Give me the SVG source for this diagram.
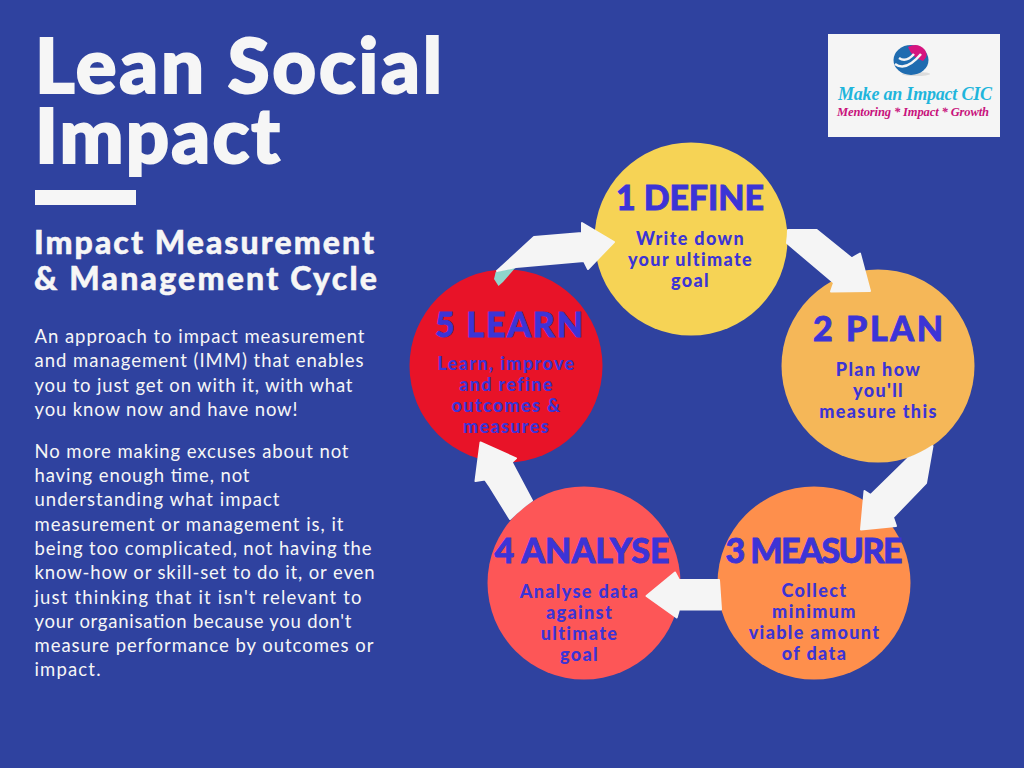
<svg xmlns="http://www.w3.org/2000/svg" width="1024" height="768" viewBox="0 0 1024 768">
<style>
.t{font-family:"Lato","Liberation Sans",sans-serif;fill:#f6f6f6}
.title{font-size:76px;font-weight:900;stroke:#f6f6f6;stroke-width:2}
.sub{font-size:32px;font-weight:900;stroke:#f6f6f6;stroke-width:.5}
.body{font-size:18.500px}
.h{font-family:"Lato","Liberation Sans",sans-serif;font-weight:900;font-size:34px;fill:#3c34d6;stroke:#3c34d6;stroke-width:.8;text-anchor:middle}
.d{font-family:"Lato","Liberation Sans",sans-serif;font-weight:900;font-size:18px;letter-spacing:1.350px;fill:#3c34d6;text-anchor:middle}
.a{fill:#f5f5f5;stroke:#f5f5f5;stroke-width:2;stroke-linejoin:round}
</style>
<rect width="1024" height="768" fill="#2f429f"/>
<g id="heading">
<text class="t title" x="35" y="93" textLength="407">Lean Social</text>
<text class="t title" x="35" y="163" textLength="245">Impact</text>
<rect x="35" y="190" width="101" height="15" fill="#f6f6f6"/>
<text class="t sub" x="34" y="254" textLength="340">Impact Measurement</text>
<text class="t sub" x="34" y="290" textLength="343">&amp; Management Cycle</text>
</g>
<g id="description">
<text class="t body" x="34.500" y="342.500" textLength="330">An approach to impact measurement</text>
<text class="t body" x="34.500" y="366.500" textLength="329">and management (IMM) that enables</text>
<text class="t body" x="34.500" y="391.500" textLength="318">you to just get on with it, with what</text>
<text class="t body" x="34.500" y="415.500" textLength="263">you know now and have now!</text>
<text class="t body" x="34.500" y="457.500" textLength="314">No more making excuses about not</text>
<text class="t body" x="34.500" y="481.500" textLength="215">having enough time, not</text>
<text class="t body" x="34.500" y="505.500" textLength="245">understanding what impact</text>
<text class="t body" x="34.500" y="530.500" textLength="309">measurement or management is, it</text>
<text class="t body" x="34.500" y="554.500" textLength="337">being too complicated, not having the</text>
<text class="t body" x="34.500" y="578.500" textLength="340">know-how or skill-set to do it, or even</text>
<text class="t body" x="34.500" y="603.500" textLength="327">just thinking that it isn't relevant to</text>
<text class="t body" x="34.500" y="627.500" textLength="317">your organisation because you don't</text>
<text class="t body" x="34.500" y="651.500" textLength="339">measure performance by outcomes or</text>
<text class="t body" x="34.500" y="675.500" textLength="66">impact.</text>
</g>
<g id="logo">
<rect x="828" y="34" width="172" height="103" fill="#f5f5f5"/>
<ellipse cx="916" cy="74" rx="14" ry="2" fill="#dcdcdc"/>
<ellipse cx="911" cy="60" rx="17.500" ry="15" fill="#1f6cb0"/>
<path d="M908 47Q918 42 925 50Q929 56 923 61Q912 58 908 47Z" fill="#d6147f"/>
<path d="M895 64Q906 72 921 54M899 58Q906 63 914 54" fill="none" stroke="#f5f5f5" stroke-width="2.500"/>
<text x="915" y="100" text-anchor="middle" font-family="Liberation Serif,serif" font-style="italic" font-weight="700" font-size="18" fill="#1fb5dc" textLength="154">Make an Impact CIC</text>
<text x="913" y="116" text-anchor="middle" font-family="Liberation Serif,serif" font-style="italic" font-weight="700" font-size="12.500" fill="#c8127c" textLength="152">Mentoring * Impact * Growth</text>
</g>
<g id="node1">
<circle cx="691" cy="239" r="96.500" fill="#f6d355"/>
<text class="h" x="690" y="210" textLength="148">1 DEFINE</text>
<text class="d" x="690.500" y="245">Write down</text>
<text class="d" x="690.500" y="266">your ultimate</text>
<text class="d" x="690.500" y="287">goal</text>
</g>
<g id="node2">
<circle cx="878" cy="366" r="96.500" fill="#f5b758"/>
<text class="h" x="878" y="341" textLength="130">2 PLAN</text>
<text class="d" x="878.500" y="376">Plan how</text>
<text class="d" x="878.500" y="397">you'll</text>
<text class="d" x="878.500" y="418">measure this</text>
</g>
<g id="node3">
<circle cx="814" cy="583" r="96.500" fill="#fe8f4c"/>
<text class="h" x="814" y="563" textLength="177">3 MEASURE</text>
<text class="d" x="814.500" y="597">Collect</text>
<text class="d" x="814.500" y="618">minimum</text>
<text class="d" x="814.500" y="639">viable amount</text>
<text class="d" x="814.500" y="660">of data</text>
</g>
<g id="node4">
<circle cx="584" cy="583" r="96.500" fill="#fd5657"/>
<text class="h" x="582" y="563" textLength="175">4 ANALYSE</text>
<text class="d" x="579.500" y="598">Analyse data</text>
<text class="d" x="579.500" y="619">against</text>
<text class="d" x="579.500" y="640">ultimate</text>
<text class="d" x="579.500" y="661">goal</text>
</g>
<g id="node5">
<circle cx="506" cy="366" r="96.500" fill="#e81328"/>
<text class="h" x="509" y="337" textLength="148">5 LEARN</text>
<text class="d" x="506.500" y="370">Learn, improve</text>
<text class="d" x="506.500" y="391">and refine</text>
<text class="d" x="506.500" y="412">outcomes &amp;</text>
<text class="d" x="506.500" y="433">measures</text>
</g>
<g id="connectors">
<path d="M495.700 272 L494 279 L498.500 286 L503 282 L516 267Z" fill="#8fd6cc"/>
<path class="a" d="M497 271L534 237L582 233L582 223L614 242L588 269L584 261L516 267Z"/>
<path class="a" d="M788 230L816.700 230L851.700 258.300L860 253.500L870 291L831 291.500L834 282.700L787 243Q788 236 788 230Z"/>
<path class="a" d="M932.500 446L926 483L893 517.300L896 526L861 529.500L864.500 491L870.700 495L908 458.500Q922 453 932.500 446Z"/>
<path class="a" d="M719 580L721 609.500L679 609.500L676.700 617.500L646.500 596L675 572.500L679 580Z"/>
<path class="a" d="M480.500 442.500L516 458.300L511.700 462.300L532 500.500Q520 509 510 519L490 486.700L485 479.500L475.500 481Z"/>
</g>
</svg>
